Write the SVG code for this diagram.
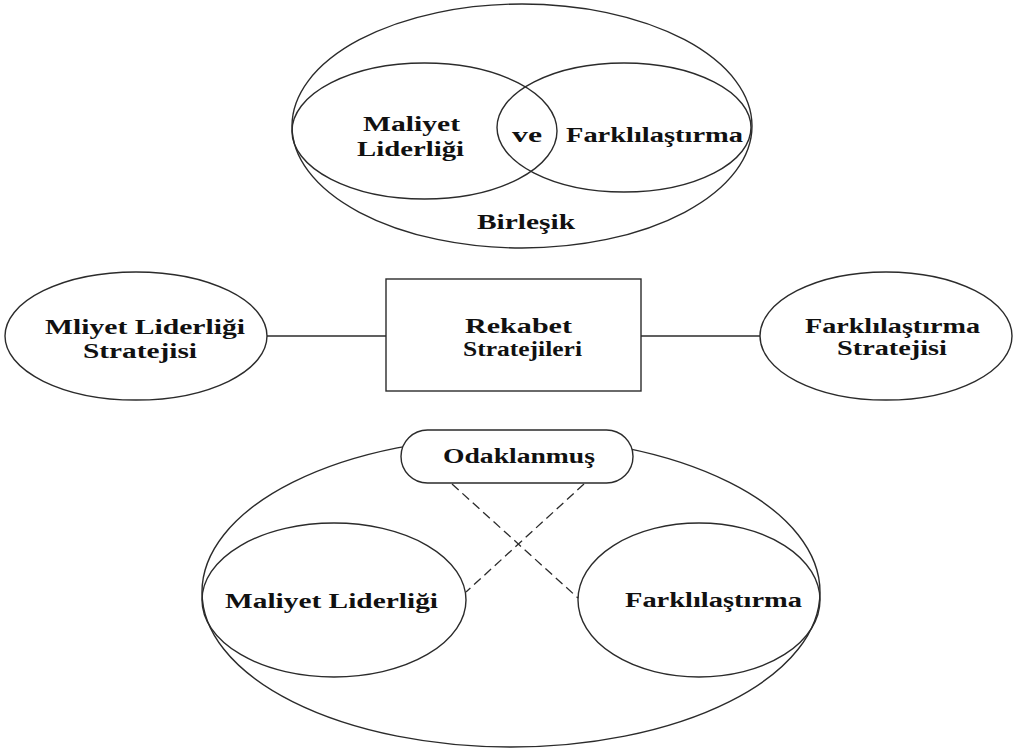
<svg xmlns="http://www.w3.org/2000/svg" width="1014" height="751" viewBox="0 0 1014 751">
  <style>
    .shape { fill: none; stroke: #2b2b2b; stroke-width: 1.4; }
    .filled { fill: #ffffff; stroke: #2b2b2b; stroke-width: 1.4; }
    .link { stroke: #2b2b2b; stroke-width: 1.4; fill: none; }
    .dash { stroke: #2b2b2b; stroke-width: 1.3; fill: none; stroke-dasharray: 9 5; }
    text { font-family: "Liberation Serif", "Times New Roman", serif; font-weight: bold; font-size: 20px; fill: #111111; }
  </style>
  <rect x="0" y="0" width="1014" height="751" fill="#ffffff"/>

  <!-- Combined strategy: cost leadership and differentiation overlap -->
  <g id="birlesik">
    <ellipse class="shape" cx="522" cy="126" rx="230" ry="122"/>
    <text x="477" y="229" textLength="98" lengthAdjust="spacingAndGlyphs">Birleşik</text>
  </g>
  <g id="birlesik-maliyet">
    <ellipse class="shape" cx="424.5" cy="131" rx="132.5" ry="68"/>
    <text x="363" y="131" textLength="97" lengthAdjust="spacingAndGlyphs">Maliyet</text>
    <text x="357" y="156" textLength="107" lengthAdjust="spacingAndGlyphs">Liderliği</text>
  </g>
  <g id="birlesik-farklilastirma">
    <ellipse class="shape" cx="624" cy="127.5" rx="127" ry="64.5"/>
    <text x="566" y="142" textLength="177" lengthAdjust="spacingAndGlyphs">Farklılaştırma</text>
  </g>
  <g id="birlesik-ve">
    <text x="512" y="142" textLength="30" lengthAdjust="spacingAndGlyphs">ve</text>
  </g>

  <!-- Connectors -->
  <g id="connectors">
    <line class="link" x1="267" y1="336" x2="386" y2="336"/>
    <line class="link" x1="641" y1="336" x2="760" y2="336"/>
    <line class="dash" x1="452" y1="484" x2="578" y2="598"/>
    <line class="dash" x1="584" y1="484" x2="466" y2="592"/>
  </g>

  <!-- Middle row -->
  <g id="maliyet-stratejisi">
    <ellipse class="shape" cx="136" cy="336" rx="131" ry="64"/>
    <text x="45" y="334" textLength="200" lengthAdjust="spacingAndGlyphs">Mliyet Liderliği</text>
    <text x="83" y="358" textLength="114" lengthAdjust="spacingAndGlyphs">Stratejisi</text>
  </g>
  <g id="rekabet-stratejileri">
    <rect class="shape" x="386" y="279" width="255" height="112"/>
    <text x="465" y="333" textLength="107" lengthAdjust="spacingAndGlyphs">Rekabet</text>
    <text x="463" y="356" textLength="119" lengthAdjust="spacingAndGlyphs">Stratejileri</text>
  </g>
  <g id="farklilastirma-stratejisi">
    <ellipse class="shape" cx="886" cy="336" rx="126" ry="64"/>
    <text x="805" y="333" textLength="175" lengthAdjust="spacingAndGlyphs">Farklılaştırma</text>
    <text x="837" y="355" textLength="110" lengthAdjust="spacingAndGlyphs">Stratejisi</text>
  </g>

  <!-- Focus strategy -->
  <g id="odaklanmis-kapsam">
    <ellipse class="shape" cx="511" cy="592" rx="309" ry="155"/>
  </g>
  <g id="odak-maliyet">
    <ellipse class="shape" cx="334" cy="600" rx="132" ry="77"/>
    <text x="225" y="608" textLength="213" lengthAdjust="spacingAndGlyphs">Maliyet Liderliği</text>
  </g>
  <g id="odak-farklilastirma">
    <ellipse class="shape" cx="699" cy="600" rx="121" ry="77"/>
    <text x="625" y="607" textLength="177" lengthAdjust="spacingAndGlyphs">Farklılaştırma</text>
  </g>
  <g id="odaklanmis">
    <rect class="filled" x="401" y="430" width="232" height="53" rx="26.5" ry="26.5"/>
    <text x="443" y="463" textLength="152" lengthAdjust="spacingAndGlyphs">Odaklanmuş</text>
  </g>
</svg>
